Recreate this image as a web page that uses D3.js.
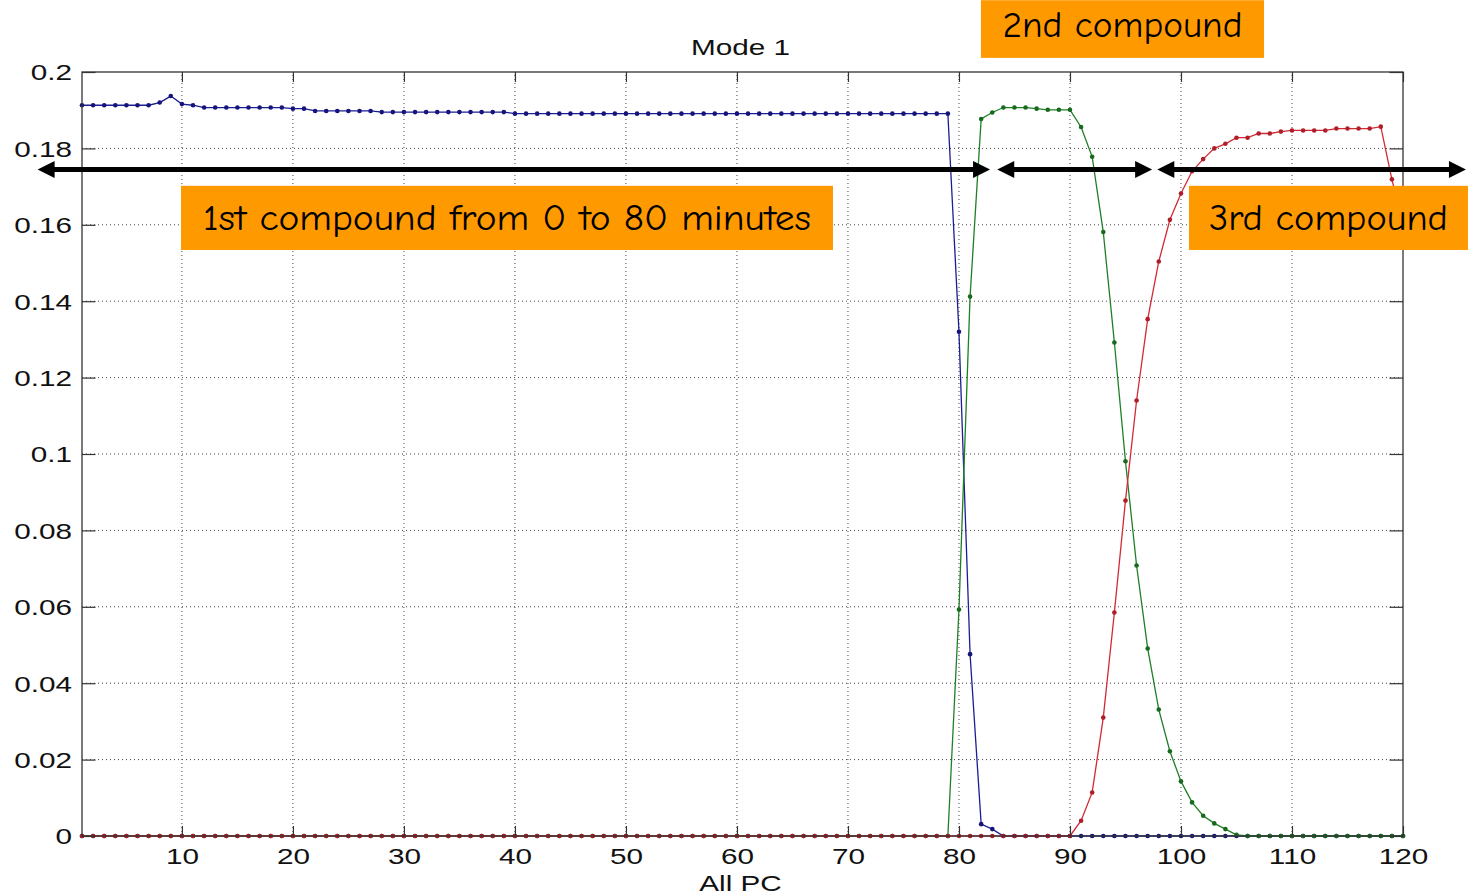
<!DOCTYPE html>
<html>
<head>
<meta charset="utf-8">
<script src="https://cdn.jsdelivr.net/npm/d3@7"></script>
<style>
  body { margin: 0; background: #fff; }
</style>
</head>
<body>
<svg id="drawing_region"></svg>
<script>
// sample number (minutes) on the x axis
const sampleNo = d3.range(1, 121);

// Mode 1 loadings, one value per sample
const compound1 = [
  0.1913, 0.1913, 0.1913, 0.1913, 0.1913, 0.1913, 0.1913, 0.1920, 0.1937, 0.1916,
  0.1913, 0.1907, 0.1907, 0.1907, 0.1907, 0.1907, 0.1907, 0.1907, 0.1907, 0.1904,
  0.1904, 0.1898, 0.1898, 0.1898, 0.1898, 0.1898, 0.1898, 0.1895, 0.1895, 0.1895,
  0.1895, 0.1895, 0.1895, 0.1895, 0.1895, 0.1895, 0.1895, 0.1895, 0.1895, 0.1891,
  0.1891, 0.1891, 0.1891, 0.1891, 0.1891, 0.1891, 0.1891, 0.1891, 0.1891, 0.1891,
  0.1891, 0.1891, 0.1891, 0.1891, 0.1891, 0.1891, 0.1891, 0.1891, 0.1891, 0.1891,
  0.1891, 0.1891, 0.1891, 0.1891, 0.1891, 0.1891, 0.1891, 0.1891, 0.1891, 0.1891,
  0.1891, 0.1891, 0.1891, 0.1891, 0.1891, 0.1891, 0.1891, 0.1891, 0.1891, 0.1320,
  0.0476, 0.0031, 0.0018, 0, 0, 0, 0, 0, 0, 0,
  0, 0, 0, 0, 0, 0, 0, 0, 0, 0,
  0, 0, 0, 0, 0, 0, 0, 0, 0, 0,
  0, 0, 0, 0, 0, 0, 0, 0, 0, 0
];
const compound2 = [
  0, 0, 0, 0, 0, 0, 0, 0, 0, 0,
  0, 0, 0, 0, 0, 0, 0, 0, 0, 0,
  0, 0, 0, 0, 0, 0, 0, 0, 0, 0,
  0, 0, 0, 0, 0, 0, 0, 0, 0, 0,
  0, 0, 0, 0, 0, 0, 0, 0, 0, 0,
  0, 0, 0, 0, 0, 0, 0, 0, 0, 0,
  0, 0, 0, 0, 0, 0, 0, 0, 0, 0,
  0, 0, 0, 0, 0, 0, 0, 0, 0, 0.0593,
  0.1412, 0.1877, 0.1894, 0.1907, 0.1907, 0.1907, 0.1904, 0.1901, 0.1901, 0.1901,
  0.1856, 0.1778, 0.1581, 0.1292, 0.0981, 0.0708, 0.0491, 0.0331, 0.0222, 0.0143,
  0.0088, 0.0053, 0.0033, 0.0018, 0.0003, 0, 0, 0, 0, 0,
  0, 0, 0, 0, 0, 0, 0, 0, 0, 0
];
const compound3 = [
  0, 0, 0, 0, 0, 0, 0, 0, 0, 0,
  0, 0, 0, 0, 0, 0, 0, 0, 0, 0,
  0, 0, 0, 0, 0, 0, 0, 0, 0, 0,
  0, 0, 0, 0, 0, 0, 0, 0, 0, 0,
  0, 0, 0, 0, 0, 0, 0, 0, 0, 0,
  0, 0, 0, 0, 0, 0, 0, 0, 0, 0,
  0, 0, 0, 0, 0, 0, 0, 0, 0, 0,
  0, 0, 0, 0, 0, 0, 0, 0, 0, 0,
  0, 0, 0, 0, 0, 0, 0, 0, 0, 0,
  0.0040, 0.0114, 0.0310, 0.0585, 0.0878, 0.1140, 0.1353, 0.1504, 0.1613, 0.1682,
  0.1740, 0.1772, 0.1800, 0.1812, 0.1828, 0.1828, 0.1839, 0.1839, 0.1844, 0.1847,
  0.1847, 0.1847, 0.1847, 0.1852, 0.1852, 0.1852, 0.1852, 0.1857, 0.1719, 0.1600
];

const xTicks = [10, 20, 30, 40, 50, 60, 70, 80, 90, 100, 110, 120];
const xTickLabels = ["10", "20", "30", "40", "50", "60", "70", "80", "90", "100", "110", "120"];
const yTicks = [0, 0.02, 0.04, 0.06, 0.08, 0.1, 0.12, 0.14, 0.16, 0.18, 0.2];
const yTickLabels = ["0", "0.02", "0.04", "0.06", "0.08", "0.1", "0.12", "0.14", "0.16", "0.18", "0.2"];

// annotations, in data units (minutes / loading)
const noteLabels = ["1st compound from 0 to 80 minutes", "2nd compound", "3rd compound"];
const noteFrom = [9.92, 81.98, 100.72];
const noteTo = [68.65, 107.48, 125.85];
const noteTop = [0.1702, 0.2188, 0.1702];
const noteBottom = [0.1534, 0.2037, 0.1534];
const arrowFrom = [-3.0, 83.45, 97.87];
const arrowTo = [82.8, 97.4, 125.67];
const arrowLevel = 0.1745;

const config = {
  width: 1468,
  height: 896,
  margin: { top: 72, right: 65, bottom: 60, left: 82 }
};
const sx = 1.35; // the reference text is stretched sideways
const axisFont = "'Liberation Sans', Arial, Helvetica, sans-serif";
const noteFont = "'Comic Sans MS', 'Comic Neue', 'DejaVu Sans', sans-serif";
const colors = ["#1c1c96", "#1f7f25", "#d12a35"];
const dotColors = ["#14147a", "#176a1c", "#b01c28"];

const svg = d3.select('#drawing_region')
  .attr('width', config.width)
  .attr('height', config.height);

const x = d3.scaleLinear()
  .domain([1, 120])
  .range([config.margin.left, config.width - config.margin.right]);
const y = d3.scaleLinear()
  .domain([0, 0.2])
  .range([config.height - config.margin.bottom, config.margin.top]);

const x0 = x.range()[0], x1 = x.range()[1];
const y0 = y.range()[0], y1 = y.range()[1];

svg.append('rect')
  .attr('width', config.width).attr('height', config.height)
  .attr('fill', '#fff');

// dotted grid
const grid = svg.append('g');
grid.selectAll('.vg').data(xTicks.filter(d => d < 120)).enter()
  .append('line')
  .attr('x1', d => x(d)).attr('x2', d => x(d))
  .attr('y1', y0).attr('y2', y1);
grid.selectAll('.hg').data(yTicks.filter(d => d > 0 && d < 0.2)).enter()
  .append('line')
  .attr('x1', x0).attr('x2', x1)
  .attr('y1', d => y(d)).attr('y2', d => y(d));
grid.selectAll('line')
  .attr('stroke', '#444')
  .attr('stroke-width', 1)
  .attr('stroke-dasharray', '1,3');

// series
const series = [compound1, compound2, compound3];
const line = d3.line()
  .x((d, i) => x(sampleNo[i]))
  .y(d => y(d));

series.forEach((s, k) => {
  const g = svg.append('g');
  g.append('path')
    .datum(s)
    .attr('d', line)
    .attr('fill', 'none')
    .attr('stroke', colors[k])
    .attr('stroke-width', 1.3);
  g.selectAll('circle').data(s).enter()
    .append('circle')
    .attr('cx', (d, i) => x(sampleNo[i]))
    .attr('cy', d => y(d))
    .attr('r', 2.3)
    .attr('fill', dotColors[k]);
});

// axes box
svg.append('rect')
  .attr('x', x0).attr('y', y1)
  .attr('width', x1 - x0).attr('height', y0 - y1)
  .attr('fill', 'none')
  .attr('stroke', '#333')
  .attr('stroke-width', 1.3);

const xaxis = d3.axisBottom(x)
  .tickValues(xTicks)
  .tickFormat(d => xTickLabels[xTicks.indexOf(d)])
  .tickSize(-10)
  .tickPadding(12.5);
const gx = svg.append('g')
  .attr('transform', `translate(0, ${y0})`)
  .call(xaxis);

const yaxis = d3.axisLeft(y)
  .tickValues(yTicks)
  .tickFormat(d => yTickLabels[yTicks.indexOf(d)])
  .tickSize(-13.5)
  .tickPadding(10 / sx);
const gy = svg.append('g')
  .attr('transform', `translate(${x0}, 0)`)
  .call(yaxis);

const gxt = svg.append('g')
  .attr('transform', `translate(0, ${y1})`)
  .call(d3.axisTop(x).tickValues(xTicks).tickSize(-10).tickFormat(''));
const gyr = svg.append('g')
  .attr('transform', `translate(${x1}, 0)`)
  .call(d3.axisRight(y).tickValues(yTicks).tickSize(-13.5).tickFormat(''));

[gx, gy, gxt, gyr].forEach(g => {
  g.select('.domain').remove();
  g.selectAll('line').attr('stroke', '#333').attr('stroke-width', 1.2);
  g.selectAll('text')
    .attr('font-family', axisFont)
    .attr('font-size', 22)
    .attr('fill', '#111')
    .attr('transform', `scale(${sx},1)`);
});
gy.selectAll('text').attr('dy', '0.36em');

// title and axis label
svg.append('text')
  .attr('transform', `translate(${(x0 + x1) / 2 - 2}, 55) scale(${sx},1)`)
  .attr('text-anchor', 'middle')
  .attr('font-family', axisFont)
  .attr('font-size', 22)
  .attr('fill', '#111')
  .text('Mode 1');

svg.append('text')
  .attr('transform', `translate(${(x0 + x1) / 2 - 2}, 891) scale(${sx},1)`)
  .attr('text-anchor', 'middle')
  .attr('font-family', axisFont)
  .attr('font-size', 22)
  .attr('fill', '#111')
  .text('All PC');

// double-headed arrows
const headLen = 17, headHalf = 8.5;
const ay = y(arrowLevel);
const arrows = svg.append('g');
arrowFrom.forEach((a, i) => {
  const xa = x(a), xb = x(arrowTo[i]);
  arrows.append('line')
    .attr('x1', xa + headLen - 1).attr('x2', xb - headLen + 1)
    .attr('y1', ay).attr('y2', ay)
    .attr('stroke', '#000')
    .attr('stroke-width', 5);
  arrows.append('path')
    .attr('d', `M${xa},${ay} L${xa + headLen},${ay - headHalf} L${xa + headLen},${ay + headHalf} Z`)
    .attr('fill', '#000');
  arrows.append('path')
    .attr('d', `M${xb},${ay} L${xb - headLen},${ay - headHalf} L${xb - headLen},${ay + headHalf} Z`)
    .attr('fill', '#000');
});

// orange label boxes
const noteWidths = [608, 240, 239];
const notes = svg.append('g');
noteLabels.forEach((t, i) => {
  const bx = x(noteFrom[i]), bw = x(noteTo[i]) - bx;
  const by = y(noteTop[i]), bh = y(noteBottom[i]) - by;
  notes.append('rect')
    .attr('x', bx).attr('y', by)
    .attr('width', bw).attr('height', bh)
    .attr('fill', '#ff9900');
  notes.append('text')
    .attr('x', bx + bw / 2)
    .attr('y', by + bh - 20.5)
    .attr('text-anchor', 'middle')
    .attr('font-family', noteFont)
    .attr('font-size', 36)
    .attr('fill', '#000')
    .attr('textLength', noteWidths[i])
    .attr('lengthAdjust', 'spacingAndGlyphs')
    .text(t);
});
</script>
</body>
</html>
